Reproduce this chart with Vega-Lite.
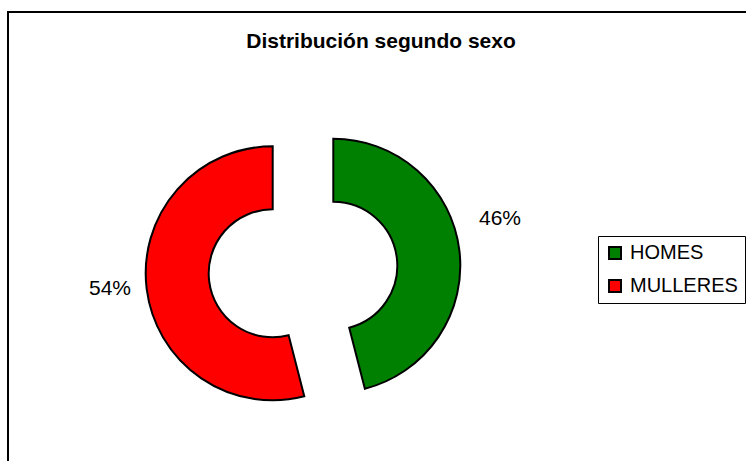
{
  "$schema": "https://vega.github.io/schema/vega-lite/v6.json",
  "width": 760,
  "height": 470,
  "autosize": "none",
  "padding": {"left": 8, "top": 12, "right": 0, "bottom": 0},
  "background": "white",
  "title": {
    "text": "Distribución segundo sexo",
    "font": "Liberation Sans",
    "fontSize": 21,
    "fontWeight": "bold",
    "color": "black",
    "anchor": "middle",
    "baseline": "alphabetic",
    "offset": -58,
    "dx": -7
  },
  "config": {
    "view": {"stroke": null},
    "font": "Liberation Sans"
  },
  "data": {
    "values": [
      {"sexo": "HOMES", "pct": 46, "label": "46%"},
      {"sexo": "MULLERES", "pct": 54, "label": "54%"}
    ]
  },
  "layer": [
    {
      "mark": {"type": "rect", "fill": "transparent", "stroke": "black", "strokeWidth": 2},
      "encoding": {}
    },
    {
      "mark": {"type": "arc", "innerRadius": 64, "outerRadius": 127, "stroke": "black", "strokeWidth": 2, "xOffset": -54.7, "yOffset": 18.7},
      "encoding": {
        "theta": {"field": "pct", "type": "quantitative", "stack": true},
        "color": {
          "field": "sexo",
          "type": "nominal",
          "scale": {"domain": ["HOMES", "MULLERES"], "range": ["#008000", "#FF0000"]},
          "legend": {
            "title": null,
            "orient": "none",
            "legendX": 590,
            "legendY": 224,
            "padding": 7,
            "strokeColor": "black",
            "fillColor": "white",
            "symbolType": "square",
            "symbolSize": 144,
            "symbolStrokeColor": "black",
            "symbolStrokeWidth": 2,
            "symbolOpacity": 1,
            "labelFont": "Liberation Sans",
            "labelFontSize": 20,
            "labelColor": "black",
            "labelOffset": 5,
            "rowPadding": 13
          }
        },
        "opacity": {"condition": {"test": "datum.sexo === 'HOMES'", "value": 1}, "value": 0}
      }
    },
    {
      "mark": {"type": "arc", "innerRadius": 64, "outerRadius": 127, "stroke": "black", "strokeWidth": 2, "xOffset": -115.3, "yOffset": 26.3},
      "encoding": {
        "theta": {"field": "pct", "type": "quantitative", "stack": true},
        "color": {"field": "sexo", "type": "nominal"},
        "opacity": {"condition": {"test": "datum.sexo === 'MULLERES'", "value": 1}, "value": 0}
      }
    },
    {
      "mark": {"type": "text", "radius": 168, "xOffset": -54.7, "yOffset": -7.3, "fontSize": 21, "font": "Liberation Sans", "fill": "black", "align": "center", "baseline": "middle"},
      "encoding": {
        "theta": {"field": "pct", "type": "quantitative", "stack": true},
        "detail": {"field": "sexo", "type": "nominal"},
        "text": {"condition": {"test": "datum.sexo === 'HOMES'", "field": "label"}, "value": ""}
      }
    },
    {
      "mark": {"type": "text", "radius": 164, "xOffset": -115.3, "yOffset": 21.8, "fontSize": 21, "font": "Liberation Sans", "fill": "black", "align": "center", "baseline": "middle"},
      "encoding": {
        "theta": {"field": "pct", "type": "quantitative", "stack": true},
        "detail": {"field": "sexo", "type": "nominal"},
        "text": {"condition": {"test": "datum.sexo === 'MULLERES'", "field": "label"}, "value": ""}
      }
    }
  ]
}
